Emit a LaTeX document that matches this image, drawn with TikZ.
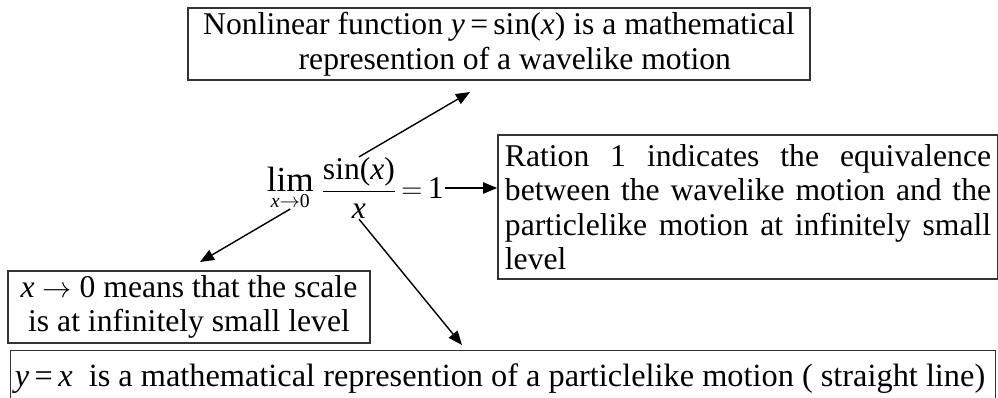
\documentclass[tikz,border=0pt]{standalone}
\usepackage{fontspec}
\setmainfont{Liberation Serif}
\usetikzlibrary{arrows.meta, positioning}

\begin{document}
\begin{tikzpicture}[
    x=0.025cm, y=-0.025cm,
    font=\fontsize{22.5}{24.5}\selectfont,
    box/.style={rectangle, draw=black!80, line width=1pt, inner sep=3pt},
    arrow/.style={-{Triangle[length=10pt,width=8pt]}, line width=1pt}
]
    \useasboundingbox (0,0) rectangle (998,397);

    \node[box, minimum width=15.55cm, minimum height=1.8cm, align=center] (wave) at (499,44)
        {Nonlinear function \textit{y}\,=\,sin(\textit{x}) is a mathematical\\ \quad represention of a wavelike motion};
    \node[box, minimum width=12.5cm, minimum height=3.6cm, text width=12.15cm, align=justify] (ratio) at (748,207)
        {Ration 1 indicates the equivalence \mbox{between} the wavelike motion and the \mbox{particlelike} motion at infinitely small level};
    \node[box, minimum width=9.05cm, minimum height=1.78cm, align=center, inner xsep=1pt] (scale) at (189,307)
        {\textit{x} $\rightarrow$ 0 means that the scale\\ is at infinitely small level};
    \node[box, minimum height=1.4cm, anchor=north west, inner ysep=5pt] (line) at (10,350)
        {\makebox[24.4cm][l]{\fontsize{23}{24.5}\selectfont\textit{y}\,=\,\textit{x} \ is a mathematical represention of a particlelike motion ( straight line)}};

    % the limit
    \node[inner sep=0pt] (frac) at (359,188) {$\displaystyle\frac{\mbox{sin(\textit{x})}}{\mbox{\textit{x}}}$};
    \node[inner sep=0pt, left=5pt of frac] (lim) {$\displaystyle\mathop{\mbox{\fontsize{25}{25}\selectfont lim}}\limits_{\mbox{\fontsize{14}{14}\selectfont\textit{x}$\rightarrow$0}}$};
    \node[inner sep=1pt, right=2pt of frac] (eq) {$=$\,1};

    \coordinate (wavetip) at (470,92);
    \coordinate (scaletip) at (200,262);
    \coordinate (linetip) at (462,345);

    \draw[arrow] (frac.north) -- (wavetip);
    \draw[arrow] (eq.east) -- (eq.east -| ratio.west);
    \draw[arrow] (lim.south) -- (scaletip);
    \draw[arrow] (frac.south) -- (linetip);
\end{tikzpicture}
\end{document}
